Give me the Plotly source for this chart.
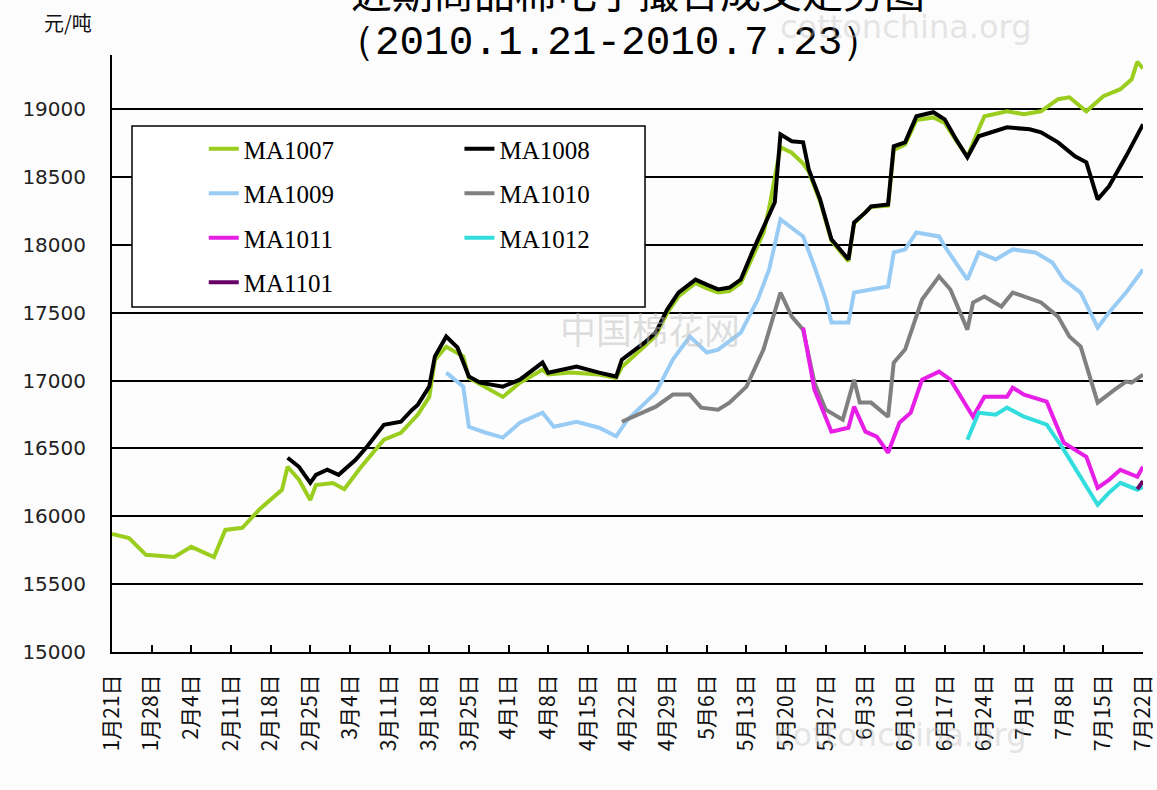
import pandas as pd
import plotly.graph_objects as go

BASE = pd.Timestamp("2010-01-21")

tick_labels = ["1月21日", "1月28日", "2月4日", "2月11日", "2月18日", "2月25日", "3月4日",
               "3月11日", "3月18日", "3月25日", "4月1日", "4月8日", "4月15日", "4月22日",
               "4月29日", "5月6日", "5月13日", "5月20日", "5月27日", "6月3日", "6月10日",
               "6月17日", "6月24日", "7月1日", "7月8日", "7月15日", "7月22日"]
y_ticks = [15000, 15500, 16000, 16500, 17000, 17500, 18000, 18500, 19000]

# day offsets from 2010-01-21, price in 元/吨
ma1007_day = [0, 3, 6, 11, 14, 18, 20, 23, 26, 30, 31, 33, 35, 36, 39, 41, 44, 48, 51, 54,
              56, 57, 59, 62, 63, 69, 72, 76, 77, 81, 86, 89, 90, 94, 96, 98, 100, 103, 105, 107,
              109, 111, 113, 115, 116, 118, 120, 122, 123, 125, 127, 130, 131, 133, 134, 137, 138, 140, 142, 145,
              147, 149, 151, 153, 154, 158, 161, 164, 167, 169, 172, 175, 178, 180, 181, 182]
ma1007_val = [15870, 15840, 15716, 15700, 15775, 15700, 15900, 15915, 16050, 16195,
              16365, 16270, 16120, 16230, 16245, 16200, 16365, 16565, 16615, 16750,
              16880, 17155, 17250, 17180, 17020, 16880, 16985, 17080, 17045, 17060,
              17045, 17020, 17100, 17250, 17330, 17500, 17620, 17720, 17680, 17650,
              17660, 17720, 17900, 18090, 18270, 18720, 18680, 18600, 18540, 18320,
              18030, 17880, 18160, 18240, 18280, 18290, 18700, 18740, 18920, 18940,
              18900, 18770, 18650, 18852, 18948, 18985, 18963, 18985, 19074, 19088,
              18985, 19096, 19148, 19221, 19350, 19300]

ma1008_day = [31, 33, 35, 36, 38, 40, 43, 45, 48, 51, 53, 54, 56, 57, 58, 59, 61, 63, 65, 69,
              72, 76, 77, 82, 86, 89, 90, 94, 96, 98, 100, 103, 105, 107, 109, 111, 113, 115, 117, 118,
              120, 122, 123, 125, 127, 130, 131, 133, 134, 137, 138, 140, 142, 145, 147, 149, 151, 153, 156, 158,
              162, 164, 167, 170, 172, 174, 176, 179, 182]
ma1008_val = [16432, 16365, 16247, 16306, 16343, 16306, 16417, 16513, 16675, 16697,
              16786, 16823, 16956, 17178, 17251, 17325, 17243, 17030, 16985, 16956,
              17007, 17133, 17059, 17103, 17059, 17030, 17155, 17280, 17355, 17524,
              17649, 17745, 17708, 17672, 17686, 17745, 17945, 18137, 18314, 18815,
              18764, 18756, 18557, 18336, 18041, 17893, 18166, 18240, 18284, 18299,
              18727, 18756, 18948, 18978, 18926, 18779, 18646, 18801, 18838, 18867,
              18852, 18830, 18756, 18653, 18609, 18336, 18432, 18653, 18889]

ma1009_day = [59, 62, 63, 66, 69, 72, 76, 78, 82, 86, 89, 91, 96, 99, 102, 105, 107, 111, 114, 116,
              118, 122, 124, 126, 127, 130, 131, 134, 137, 138, 140, 142, 146, 147, 151, 153, 156, 159, 163, 166,
              168, 171, 174, 176, 179, 182]
ma1009_val = [17059, 16956, 16660, 16616, 16580, 16690, 16764, 16660, 16697, 16653,
              16590, 16712, 16912, 17155, 17325, 17207, 17229, 17354, 17598, 17819,
              18188, 18063, 17841, 17598, 17428, 17428, 17650, 17672, 17694, 17945,
              17967, 18092, 18063, 17989, 17745, 17945, 17893, 17967, 17945, 17871,
              17745, 17649, 17391, 17502, 17649, 17819]

ma1010_day = [90, 96, 99, 102, 104, 107, 109, 112, 115, 118, 120, 122, 124, 126, 129, 131, 132, 134, 137, 138,
              140, 143, 146, 148, 151, 152, 154, 157, 159, 164, 167, 169, 171, 174, 177, 179, 180, 182]
ma1010_val = [16697, 16808, 16897, 16897, 16801, 16786, 16838, 16956, 17229, 17649,
              17472, 17376, 16985, 16786, 16712, 17007, 16838, 16838, 16734, 17133,
              17229, 17598, 17768, 17672, 17376, 17576, 17620, 17546, 17649, 17576,
              17472, 17325, 17251, 16838, 16934, 16993, 16985, 17044]

ma1011_day = [122, 124, 127, 130, 131, 133, 135, 137, 139, 141, 143, 146, 148, 152, 154, 158, 159, 161, 165, 168,
              172, 174, 176, 178, 181, 182]
ma1011_val = [17391, 16934, 16624, 16653, 16808, 16624, 16587, 16469, 16690, 16764,
              17007, 17066, 17007, 16734, 16882, 16882, 16948, 16897, 16845, 16543,
              16439, 16210, 16269, 16343, 16291, 16365]

ma1012_day = [151, 153, 156, 158, 161, 165, 168, 171, 174, 176, 178, 181, 182]
ma1012_val = [16565, 16764, 16749, 16801, 16734, 16675, 16491, 16291, 16085, 16174, 16247, 16196, 16218]

ma1101_day = [181, 182]
ma1101_val = [16200, 16260]

series = [
    ("MA1007", ma1007_day, ma1007_val, "#9ACD1E", "legend"),
    ("MA1008", ma1008_day, ma1008_val, "#000000", "legend2"),
    ("MA1009", ma1009_day, ma1009_val, "#99CCF5", "legend"),
    ("MA1010", ma1010_day, ma1010_val, "#808080", "legend2"),
    ("MA1011", ma1011_day, ma1011_val, "#E61EE6", "legend"),
    ("MA1012", ma1012_day, ma1012_val, "#33DDDD", "legend2"),
    ("MA1101", ma1101_day, ma1101_val, "#660066", "legend"),
]


def to_dates(days):
    return [BASE + pd.Timedelta(days=d) for d in days]


fig = go.Figure()
for name, d, v, color, leg in series:
    fig.add_trace(go.Scatter(
        x=to_dates(d), y=v, mode="lines", name=name,
        line=dict(color=color, width=4),
        legend=leg, legendgroup=name,
    ))

tick_dates = [BASE + pd.Timedelta(days=7 * i) for i in range(len(tick_labels))]

fig.update_xaxes(
    type="date", automargin=False,
    range=[BASE, BASE + pd.Timedelta(days=182)],
    tickvals=tick_dates, ticktext=tick_labels, tickangle=-90,
    ticks="inside", ticklen=7, tickwidth=1.5, tickcolor="#000",
    showline=True, linecolor="#000", linewidth=2,
    showgrid=False, zeroline=False,
    tickfont=dict(family="Noto Sans CJK SC", size=21, color="#111"),
    ticklabelstandoff=12,
)
fig.update_yaxes(
    automargin=False,
    range=[15000, 19400], tickvals=y_ticks, tickformat="d",
    showline=True, linecolor="#000", linewidth=2,
    showgrid=True, gridcolor="#000", gridwidth=1.5,
    zeroline=False, ticks="",
    tickfont=dict(family="DejaVu Sans", size=20, color="#222"),
    ticklabelstandoff=20,
)

legend_common = dict(
    bgcolor="rgba(0,0,0,0)", borderwidth=0,
    font=dict(family="Liberation Serif", size=25, color="#000"),
    traceorder="grouped", tracegroupgap=9,
    orientation="v", xanchor="left", yanchor="top",
)

fig.update_layout(
    width=1157, height=790,
    margin=dict(l=112, r=14, t=55, b=138, autoexpand=False),
    paper_bgcolor="#fcfcfc", plot_bgcolor="#fdfdfd",
    showlegend=True,
    legend=dict(x=0.089, y=0.881, **legend_common),
    legend2=dict(x=0.337, y=0.881, **legend_common),
    shapes=[dict(type="rect", xref="paper", yref="paper",
                 x0=0.0194, x1=0.517, y0=0.578, y1=0.881,
                 fillcolor="#ffffff", line=dict(color="#000", width=1.5), layer="above")],
    annotations=[
        dict(text="近期商品棉电子撮合成交走势图", xref="paper", yref="paper",
             x=(638 - 112) / 1031, y=(652 - 22) / 597, xanchor="center", yanchor="bottom",
             showarrow=False, font=dict(family="Noto Sans CJK SC", size=41, color="#000")),
        dict(text="（2010.1.21-2010.7.23）", xref="paper", yref="paper",
             x=(608 - 112) / 1031, y=(652 - 43) / 597, xanchor="center", yanchor="middle",
             showarrow=False, font=dict(family="Liberation Mono", size=41, color="#000")),
        dict(text="元/吨", xref="paper", yref="paper",
             x=(68 - 112) / 1031, y=(652 - 22) / 597, xanchor="center", yanchor="middle",
             showarrow=False, font=dict(family="Noto Sans CJK SC", size=20, color="#111")),
        dict(text="cottonchina.org", xref="paper", yref="paper",
             x=(905 - 112) / 1031, y=(652 - 27) / 597, xanchor="center", yanchor="middle",
             showarrow=False, font=dict(family="DejaVu Sans", size=32, color="rgba(190,190,190,0.4)")),
        dict(text="cottonchina.org", xref="paper", yref="paper",
             x=(900 - 112) / 1031, y=(652 - 735) / 597, xanchor="center", yanchor="middle",
             showarrow=False, font=dict(family="DejaVu Sans", size=32, color="rgba(190,190,190,0.4)")),
        dict(text="中国棉花网", xref="paper", yref="paper",
             x=(650 - 112) / 1031, y=(652 - 328) / 597, xanchor="center", yanchor="middle",
             showarrow=False, font=dict(family="Noto Sans CJK SC", size=36, color="rgba(190,190,190,0.5)")),
    ],
)

# remove the default page margin so the 1157x790 figure fills the window exactly
fig.write_html("out.html", config={"displayModeBar": False},
               post_script="document.body.style.margin='0';")
